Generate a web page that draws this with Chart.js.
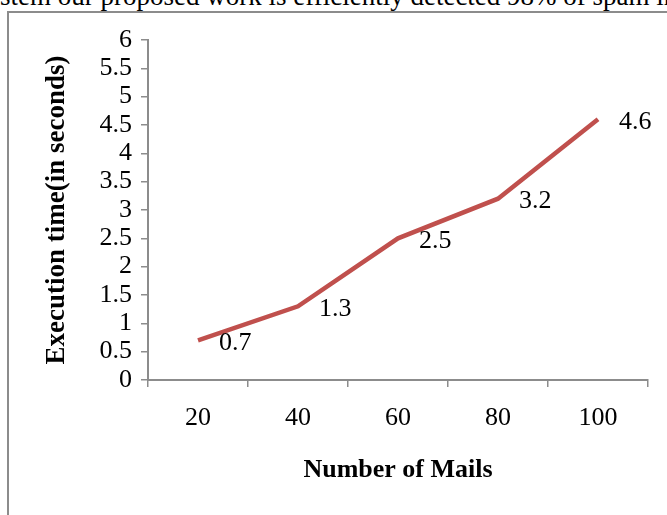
<!DOCTYPE html>
<html>
<head>
<meta charset="utf-8">
<script src="https://cdn.jsdelivr.net/npm/chart.js@4"></script>
<style>
  body { margin: 0; background: #fff; overflow: hidden; }
  #wrap { position: relative; width: 667px; height: 515px; }
  #topText {
    position: absolute; left: 0; top: -17px; white-space: nowrap;
    font: 27px "Liberation Serif", "Times New Roman", serif; line-height: 27px; color: #000;
  }
  #frame {
    position: absolute; left: 7px; top: 11px; width: 680px; height: 520px;
    border-left: 2px solid #8c8c8c; border-top: 2px solid #8c8c8c;
  }
  canvas { position: absolute; left: 0; top: 0; }
</style>
</head>
<body>
<div id="wrap">
  <div id="topText">stem our proposed work is efficiently detected 98% of spam in</div>
  <div id="frame"></div>
  <canvas id="my-chart" width="667" height="515"></canvas>
</div>
<script>
'use strict';

let mailCounts = ['20', '40', '60', '80', '100'];
let execTimes = [0.7, 1.3, 2.5, 3.2, 4.6];
let yTicks = [0, 0.5, 1, 1.5, 2, 2.5, 3, 3.5, 4, 4.5, 5, 5.5, 6];

let canvasElement = document.getElementById('my-chart');

Chart.defaults.font.family = '"Liberation Serif", "Times New Roman", serif';
Chart.defaults.color = '#000';

// value labels to the right of each point
let valueLabels = {
  id: 'valueLabels',
  afterDatasetsDraw(chart) {
    let ctx = chart.ctx;
    let meta = chart.getDatasetMeta(0);
    ctx.save();
    ctx.font = '26px "Liberation Serif", serif';
    ctx.fillStyle = '#000';
    ctx.textAlign = 'left';
    ctx.textBaseline = 'middle';
    meta.data.forEach(function (pt, i) {
      ctx.fillText(String(execTimes[i]), pt.x + 21, pt.y + 3);
    });
    ctx.restore();
  }
};

function renderChart() {
  let chartObj = {
    type: 'line',
    data: {
      labels: mailCounts,
      datasets: [{
        data: execTimes,
        borderColor: '#c0504d',
        borderWidth: 4.5,
        pointRadius: 0,
        tension: 0,
        fill: false
      }]
    },
    options: {
      responsive: false,
      animation: false,
      layout: { padding: { top: 40, right: 19, left: 0, bottom: 0 } },
      plugins: { legend: { display: false }, tooltip: { enabled: false } },
      scales: {
        x: {
          offset: true,
          afterFit: function (scale) { scale.height = 135; },
          grid: { offset: true, drawOnChartArea: false, tickLength: 7, color: '#8c8c8c', lineWidth: 1.5 },
          border: { color: '#8c8c8c', width: 2 },
          ticks: { font: { size: 26 }, padding: 16, maxRotation: 0 },
          title: {
            display: true,
            text: 'Number of Mails',
            font: { size: 26, weight: 'bold' },
            padding: { top: 0, bottom: 29 }
          }
        },
        y: {
          min: 0,
          max: 6,
          afterFit: function (scale) { scale.width = 148; },
          afterBuildTicks: function (scale) {
            scale.ticks = yTicks.map(function (v) { return { value: v }; });
          },
          grid: { drawOnChartArea: false, tickLength: 7, color: '#8c8c8c', lineWidth: 1.5 },
          border: { color: '#8c8c8c', width: 2 },
          ticks: {
            font: { size: 26 },
            padding: 9,
            autoSkip: false,
            callback: function (v) { return String(v); }
          },
          title: {
            display: true,
            text: 'Execution time(in seconds)',
            font: { size: 27, weight: 'bold' },
            padding: { top: 41, bottom: 0 }
          }
        }
      }
    },
    plugins: [valueLabels]
  };
  new Chart(canvasElement, chartObj);//eslint-disable-line
}

renderChart();
</script>
</body>
</html>
